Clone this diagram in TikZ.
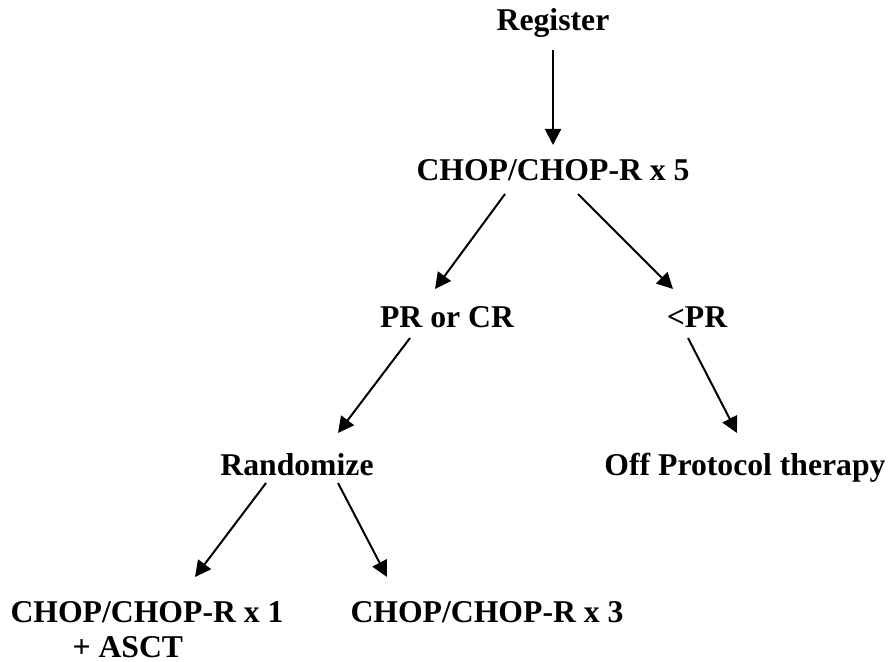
\documentclass[tikz,border=0pt]{standalone}
\usepackage{fontspec}
\setmainfont{Liberation Serif}
\usetikzlibrary{arrows.meta,calc}

\begin{document}
\begin{tikzpicture}[x=0.5pt,y=-0.5pt,
    >={Triangle[length=8pt,width=8pt]},
    every node/.style={anchor=base,inner sep=0pt,font=\fontsize{15.85}{17.5}\selectfont\bfseries}]
      \useasboundingbox (0,0) rectangle (892,662);
      \draw
        (553,31) node (reg){Register}
        (553,181) node (chop5){CHOP/CHOP-R x 5}
        (447,327) node (pr){PR or CR}
        (697,327) node (ltpr){<PR}
        (297,475) node (rand){Randomize}
        (745,475) node (off){Off Protocol therapy}
        (147,657) node[align=left] (chop1){CHOP/CHOP-R x 1\\\hspace{31pt}+ ASCT}
        (487,622) node (chop3){CHOP/CHOP-R x 3};
      \begin{scope}[->,line width=1pt]
        \draw ($(reg.base)+(0,19)$) to ($(chop5.base)+(0,-36)$);
        \draw ($(chop5.base)+(-48,13)$) to ($(pr.base)+(-12,-38)$);
        \draw ($(chop5.base)+(25,13)$) to ($(ltpr.base)+(-24,-38)$);
        \draw ($(pr.base)+(-37,11)$) to ($(rand.base)+(41,-42)$);
        \draw ($(ltpr.base)+(-9,11)$) to ($(off.base)+(-8,-42)$);
        \draw ($(rand.base)+(-31,8)$) to ($(chop1.base)+(48,-80)$);
        \draw ($(rand.base)+(41,8)$) to ($(chop3.base)+(-100,-45)$);
      \end{scope}
    \end{tikzpicture}
\end{document}
